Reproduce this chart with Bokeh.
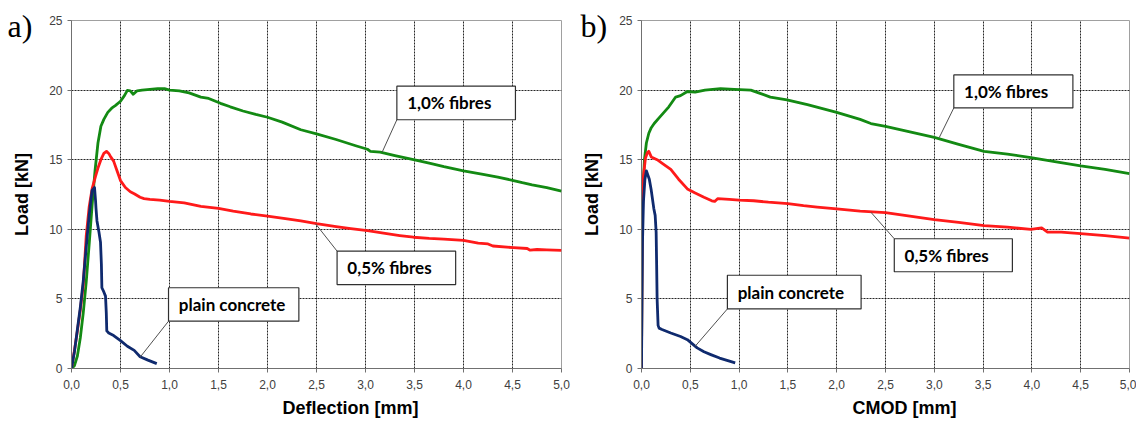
from bokeh.plotting import figure
from bokeh.layouts import row
from bokeh.models import Range1d, FixedTicker, Title, CustomJSTickFormatter
from bokeh.core.properties import value
from bokeh.embed import file_html
from bokeh.resources import INLINE

# ---------------- data: panel a) load vs deflection ----------------
defl_fib10 = [0, 0.03, 0.06, 0.09, 0.12, 0.15, 0.18, 0.21, 0.24, 0.27, 0.30, 0.33, 0.37, 0.41,
              0.45, 0.50, 0.54, 0.57, 0.60, 0.63, 0.67, 0.72, 0.80, 0.88, 0.95, 1.00, 1.10,
              1.20, 1.32, 1.40, 1.52, 1.62, 1.75, 1.88, 2.00, 2.15, 2.34, 2.50, 2.70, 2.90,
              3.02, 3.05, 3.15, 3.30, 3.49, 3.65, 3.80, 4.00, 4.20, 4.35, 4.51, 4.60, 4.70,
              4.85, 5.00]
load_a_fib10 = [0, 0.2, 0.9, 2.2, 4.0, 6.2, 8.9, 11.7, 14.2, 16.2, 17.4, 17.9, 18.4, 18.7,
                18.9, 19.2, 19.6, 19.98, 19.95, 19.7, 19.95, 20.0, 20.05, 20.1, 20.1, 20.0,
                19.95, 19.8, 19.5, 19.4, 19.05, 18.8, 18.5, 18.25, 18.05, 17.7, 17.15, 16.85,
                16.45, 16.0, 15.75, 15.6, 15.55, 15.3, 15.0, 14.75, 14.5, 14.2, 13.95, 13.75,
                13.5, 13.35, 13.2, 13.0, 12.75]

defl_fib05 = [0, 0.03, 0.06, 0.09, 0.12, 0.15, 0.18, 0.21, 0.245, 0.27, 0.30, 0.33, 0.357,
              0.38, 0.40, 0.43, 0.46, 0.50, 0.55, 0.60, 0.64, 0.70, 0.74, 0.80, 0.90, 1.00,
              1.15, 1.32, 1.50, 1.65, 1.83, 2.00, 2.20, 2.34, 2.50, 2.70, 2.85, 3.02, 3.20,
              3.35, 3.49, 3.65, 3.80, 4.00, 4.15, 4.25, 4.30, 4.51, 4.65, 4.68, 4.75, 4.85,
              5.00]
load_a_fib05 = [0, 1.3, 2.7, 4.2, 6.0, 9.5, 11.6, 12.9, 13.8, 14.4, 15.0, 15.45, 15.6, 15.45,
                15.2, 14.9, 14.3, 13.5, 13.0, 12.7, 12.55, 12.3, 12.2, 12.15, 12.1, 12.0,
                11.9, 11.65, 11.5, 11.3, 11.1, 10.95, 10.75, 10.6, 10.4, 10.2, 10.05, 9.9,
                9.7, 9.55, 9.43, 9.35, 9.3, 9.2, 9.0, 8.95, 8.8, 8.68, 8.62, 8.5, 8.55, 8.52,
                8.48]

defl_plain = [0, 0.03, 0.06, 0.09, 0.12, 0.15, 0.18, 0.21, 0.235, 0.245, 0.25, 0.26, 0.28,
              0.296, 0.305, 0.31, 0.33, 0.347, 0.355, 0.36, 0.38, 0.43, 0.50, 0.57, 0.64,
              0.70, 0.78, 0.87]
load_a_plain = [0, 1.2, 2.8, 4.4, 6.3, 8.7, 11.0, 12.8, 13.0, 12.1, 11.5, 10.6, 9.8, 9.07,
                7.5, 5.8, 5.5, 5.2, 4.0, 2.7, 2.55, 2.37, 2.0, 1.6, 1.3, 0.85, 0.6, 0.35]

# ---------------- data: panel b) load vs CMOD ----------------
cmod_fib10 = [0, 0.003, 0.006, 0.01, 0.02, 0.03, 0.05, 0.075, 0.10, 0.13, 0.18, 0.23, 0.28,
              0.35, 0.40, 0.47, 0.55, 0.65, 0.81, 0.95, 1.12, 1.20, 1.32, 1.49, 1.70, 2.00,
              2.24, 2.35, 2.50, 2.75, 3.00, 3.25, 3.51, 3.75, 3.99, 4.25, 4.50, 4.75, 5.00]
load_b_fib10 = [0, 5.0, 9.0, 11.5, 13.5, 15.0, 16.2, 16.9, 17.3, 17.6, 18.0, 18.4, 18.8,
                19.5, 19.6, 19.9, 19.85, 20.0, 20.1, 20.05, 20.0, 19.8, 19.5, 19.3, 18.95,
                18.4, 17.9, 17.6, 17.4, 17.0, 16.6, 16.1, 15.6, 15.4, 15.15, 14.85, 14.55,
                14.3, 14.0]

cmod_fib05 = [0, 0.005, 0.01, 0.02, 0.04, 0.06, 0.075, 0.10, 0.16, 0.22, 0.30, 0.38, 0.47,
              0.55, 0.64, 0.72, 0.75, 0.78, 0.90, 1.00, 1.15, 1.30, 1.50, 1.66, 1.80, 2.00,
              2.24, 2.50, 2.75, 3.00, 3.25, 3.51, 3.75, 3.99, 4.10, 4.16, 4.30, 4.50, 4.75,
              5.00]
load_b_fib05 = [0, 7.0, 11.0, 13.8, 15.1, 15.5, 15.6, 15.2, 15.0, 14.7, 14.3, 13.6, 12.9,
                12.6, 12.3, 12.05, 12.0, 12.2, 12.15, 12.1, 12.05, 11.95, 11.85, 11.7, 11.6,
                11.46, 11.3, 11.2, 10.95, 10.7, 10.5, 10.27, 10.15, 10.0, 10.1, 9.8, 9.8,
                9.69, 9.55, 9.37]

cmod_plain = [0, 0.005, 0.01, 0.02, 0.035, 0.05, 0.08, 0.10, 0.126, 0.14, 0.15, 0.155, 0.16,
              0.17, 0.18, 0.21, 0.30, 0.40, 0.47, 0.57, 0.64, 0.71, 0.80, 0.96]
load_b_plain = [0, 5.0, 9.0, 12.0, 13.6, 14.2, 13.6, 12.8, 11.5, 11.0, 9.8, 7.5, 5.0, 3.1,
                2.9, 2.8, 2.55, 2.3, 2.07, 1.48, 1.2, 1.0, 0.75, 0.41]

series_names = ["1,0% fibres", "0,5% fibres", "plain concrete"]
x_ticks = [0, 0.5, 1.0, 1.5, 2.0, 2.5, 3.0, 3.5, 4.0, 4.5, 5.0]
y_ticks = [0, 5, 10, 15, 20, 25]

# callout boxes: (name, left, right, bottom, top, leader-end x, leader-end y, corner)
callouts_a = [
    ("1,0% fibres", 3.32, 4.53, 17.87, 20.28, 3.17, 15.54, "bl"),
    ("0,5% fibres", 2.71, 3.92, 6.03, 8.43, 2.49, 10.40, "tl"),
    ("plain concrete", 0.99, 2.32, 3.40, 5.80, 0.70, 0.81, "bl"),
]
callouts_b = [
    ("1,0% fibres", 3.20, 4.42, 18.72, 21.09, 3.05, 16.58, "bl"),
    ("0,5% fibres", 2.59, 3.80, 6.95, 9.32, 2.35, 11.23, "tl"),
    ("plain concrete", 0.88, 2.25, 4.28, 6.70, 0.55, 1.60, "bl"),
]

COLORS = {"1,0% fibres": "#138a13", "0,5% fibres": "#ff1a1a", "plain concrete": "#0f2a6e"}


def make_panel(tag, xlabel, curves, callouts, width, border_left, border_right, border_bottom,
               tag_offset, xlabel_offset):
    p = figure(width=width, height=422, x_range=Range1d(0, 5), y_range=Range1d(0, 25),
               output_backend="svg", toolbar_location=None,
               min_border_left=border_left, min_border_right=border_right,
               min_border_top=20, min_border_bottom=border_bottom)
    p.background_fill_color = "white"
    p.border_fill_color = "white"
    p.outline_line_color = "#a0a0a0"

    p.xaxis.ticker = FixedTicker(ticks=x_ticks)
    p.yaxis.ticker = FixedTicker(ticks=y_ticks)
    p.xaxis.formatter = CustomJSTickFormatter(code="return tick.toFixed(1).replace('.', ',');")
    for ax in (p.xaxis[0], p.yaxis[0]):
        ax.axis_line_color = "#707070"
        ax.major_tick_line_color = "#707070"
        ax.major_tick_in = 0
        ax.major_tick_out = 4
        ax.minor_tick_line_color = None
        ax.major_label_text_font = "Liberation Sans"
        ax.major_label_text_font_size = "12px"
        ax.major_label_text_color = "#404040"
        ax.axis_label_text_font = "Liberation Sans"
        ax.axis_label_text_font_style = "bold"
        ax.axis_label_text_font_size = "18px"
        ax.axis_label_text_color = "black"
    p.xaxis.major_label_standoff = 7
    p.yaxis.major_label_standoff = 5
    p.yaxis.axis_label = "Load [kN]"
    p.yaxis.axis_label_standoff = 14

    # x-axis title (sits right of centre, as in the source figure)
    p.add_layout(Title(text=xlabel, align="left", offset=xlabel_offset, standoff=8,
                       text_font="Liberation Sans", text_font_style="bold",
                       text_font_size="18px", text_color="black"), "below")
    # panel tag
    p.add_layout(Title(text=tag, align="left", offset=tag_offset, standoff=-46,
                       text_font="Liberation Serif", text_font_style="normal",
                       text_font_size="32px", text_line_height=1.45,
                       text_color="black"), "above")

    for g in (p.xgrid[0], p.ygrid[0]):
        g.grid_line_color = "black"
        g.grid_line_dash = "2 1"
        g.grid_line_alpha = 0.85
        g.grid_line_width = 1

    for name, (xs, ys) in curves.items():
        p.line(xs, ys, line_color=COLORS[name], line_width=2.8, line_join="round")

    for name, l, r, b, t, ex, ey, corner in callouts:
        cy = b if corner == "bl" else t
        p.segment(x0=[l], y0=[cy], x1=[ex], y1=[ey], line_color="#505050", line_width=1)
        p.quad(left=[l], right=[r], bottom=[b], top=[t], fill_color="white",
               line_color="#303030", line_width=1.2)
        p.text(x=[l + 0.105], y=[(b + t) / 2], text=[name], text_font=value("Lato"),
               text_font_style="bold", text_font_size="17px", text_baseline="middle",
               text_align="left", text_color="black")
    return p


p1 = make_panel("a)", "Deflection [mm]",
                {"1,0% fibres": (defl_fib10, load_a_fib10),
                 "0,5% fibres": (defl_fib05, load_a_fib05),
                 "plain concrete": (defl_plain, load_a_plain)},
                callouts_a, width=575, border_left=71, border_right=14, border_bottom=54,
                tag_offset=-64, xlabel_offset=211)
p2 = make_panel("b)", "CMOD [mm]",
                {"1,0% fibres": (cmod_fib10, load_b_fib10),
                 "0,5% fibres": (cmod_fib05, load_b_fib05),
                 "plain concrete": (cmod_plain, load_b_plain)},
                callouts_b, width=561, border_left=66, border_right=7, border_bottom=52,
                tag_offset=-61, xlabel_offset=211)

layout = row(p1, p2)
open("out.html", "w").write(file_html(layout, INLINE))
